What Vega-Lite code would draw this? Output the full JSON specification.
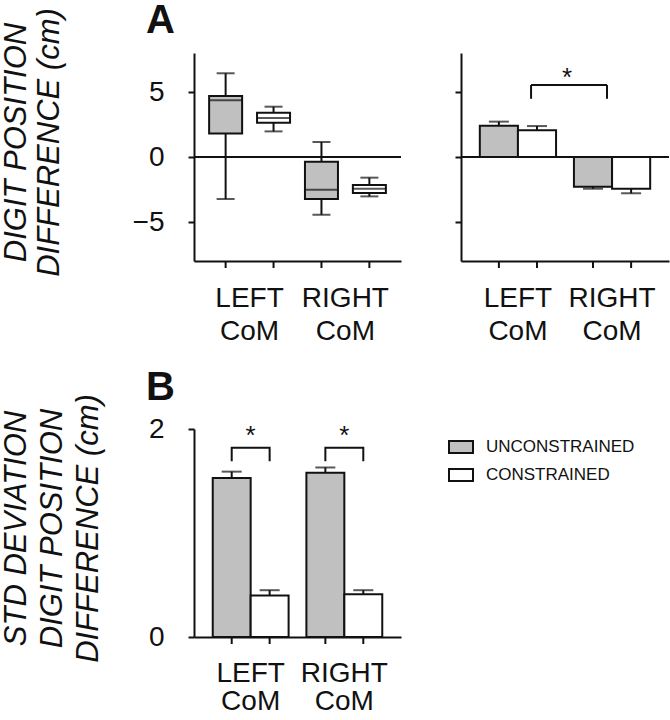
{
  "$schema": "https://vega.github.io/schema/vega-lite/v6.json",
  "padding": 0,
  "background": "white",
  "config": {
    "font": "Liberation Sans",
    "view": {"stroke": null},
    "axis": {"domainColor": "#111", "domainWidth": 2, "tickColor": "#111", "tickWidth": 2, "tickSize": 6, "labelFont": "Liberation Sans", "labelFontSize": 28, "labelColor": "#111", "grid": false, "titleFont": "Liberation Sans", "titleFontSize": 31, "titleFontStyle": "italic", "titleFontWeight": "normal", "titleColor": "#111"},
    "title": {"font": "Liberation Sans", "fontSize": 40, "fontWeight": "bold", "color": "#111", "anchor": "start", "frame": "group"}
  },
  "datasets": {
    "box": [
      {"group": "LEFT", "condition": "UNCONSTRAINED", "lower": -3.23, "q1": 1.8, "median": 4.36, "q3": 4.7, "upper": 6.44},
      {"group": "LEFT", "condition": "CONSTRAINED", "lower": 1.97, "q1": 2.64, "median": 3.0, "q3": 3.41, "upper": 3.87},
      {"group": "RIGHT", "condition": "UNCONSTRAINED", "lower": -4.44, "q1": -3.23, "median": -2.51, "q3": -0.36, "upper": 1.15},
      {"group": "RIGHT", "condition": "CONSTRAINED", "lower": -3.03, "q1": -2.77, "median": -2.44, "q3": -2.15, "upper": -1.59}
    ],
    "barsA": [
      {"group": "LEFT", "condition": "UNCONSTRAINED", "mean": 2.41, "errEnd": 2.72},
      {"group": "LEFT", "condition": "CONSTRAINED", "mean": 2.05, "errEnd": 2.38},
      {"group": "RIGHT", "condition": "UNCONSTRAINED", "mean": -2.28, "errEnd": -2.44},
      {"group": "RIGHT", "condition": "CONSTRAINED", "mean": -2.44, "errEnd": -2.79}
    ],
    "barsB": [
      {"group": "LEFT", "condition": "UNCONSTRAINED", "mean": 1.53, "errEnd": 1.59},
      {"group": "LEFT", "condition": "CONSTRAINED", "mean": 0.40, "errEnd": 0.45},
      {"group": "RIGHT", "condition": "UNCONSTRAINED", "mean": 1.58, "errEnd": 1.63},
      {"group": "RIGHT", "condition": "CONSTRAINED", "mean": 0.41, "errEnd": 0.45}
    ],
    "bracketA": [{"from": "LEFT", "to": "RIGHT", "low": 4.48, "high": 5.54}],
    "starA": [{"group": "LEFT", "condition": "CONSTRAINED", "y": 6.1, "label": "*"}],
    "bracketB": [
      {"id": "L", "group": "LEFT", "condition": "UNCONSTRAINED", "y": 1.69, "order": 1},
      {"id": "L", "group": "LEFT", "condition": "UNCONSTRAINED", "y": 1.82, "order": 2},
      {"id": "L", "group": "LEFT", "condition": "CONSTRAINED", "y": 1.82, "order": 3},
      {"id": "L", "group": "LEFT", "condition": "CONSTRAINED", "y": 1.69, "order": 4},
      {"id": "R", "group": "RIGHT", "condition": "UNCONSTRAINED", "y": 1.69, "order": 1},
      {"id": "R", "group": "RIGHT", "condition": "UNCONSTRAINED", "y": 1.82, "order": 2},
      {"id": "R", "group": "RIGHT", "condition": "CONSTRAINED", "y": 1.82, "order": 3},
      {"id": "R", "group": "RIGHT", "condition": "CONSTRAINED", "y": 1.69, "order": 4}
    ],
    "starB": [
      {"group": "LEFT", "y": 1.93, "label": "*"},
      {"group": "RIGHT", "y": 1.93, "label": "*"}
    ]
  },
  "spacing": 22,
  "resolve": {
    "scale": {"x": "independent", "xOffset": "independent", "y": "independent", "fill": "independent"},
    "legend": {"fill": "independent"}
  },
  "vconcat": [
    {
      "spacing": 52,
      "resolve": {
        "scale": {"x": "independent", "xOffset": "independent", "y": "independent"}
      },
      "hconcat": [
        {
          "width": 207,
          "height": 208,
          "title": {"text": "A", "dx": -48, "offset": -33},
          "data": {"name": "box"},
          "layer": [
            {
              "mark": {"type": "rule", "color": "#111", "strokeWidth": 2},
              "encoding": {
                "x": {"field": "group", "type": "nominal", "sort": ["LEFT", "RIGHT"], "scale": {"paddingInner": 0, "paddingOuter": 0.08}, "axis": {"title": null, "ticks": false, "labelAngle": 0, "labelExpr": "[datum.label, 'CoM']", "labelPadding": 23, "labelLineHeight": 33, "labelBaseline": "top"}},
                "xOffset": {"field": "condition", "type": "nominal", "sort": ["UNCONSTRAINED", "CONSTRAINED"], "scale": {"paddingInner": 0, "paddingOuter": 0}},
                "y": {"field": "lower", "type": "quantitative", "scale": {"domain": [-8, 8], "nice": false}, "axis": {"values": [-5, 0, 5], "labelPadding": 24, "title": ["DIGIT POSITION", "DIFFERENCE (cm)"], "titleX": -193, "titleY": 89, "titleBaseline": "top", "titleAlign": "center", "titleLineHeight": 33, "titleAngle": -90}},
                "y2": {"field": "upper"}
              }
            },
            {
              "mark": {"type": "bar", "width": 33, "stroke": "#111", "strokeWidth": 2},
              "encoding": {
                "x": {"field": "group", "type": "nominal", "sort": ["LEFT", "RIGHT"]},
                "xOffset": {"field": "condition", "type": "nominal", "sort": ["UNCONSTRAINED", "CONSTRAINED"]},
                "y": {"field": "q1", "type": "quantitative", "stack": null},
                "y2": {"field": "q3"},
                "fill": {"condition": {"test": "datum.condition === 'UNCONSTRAINED'", "value": "#c0c0c0"}, "value": "white"}
              }
            },
            {
              "mark": {"type": "tick", "size": 33, "thickness": 2, "color": "#111"},
              "encoding": {
                "x": {"field": "group", "type": "nominal", "sort": ["LEFT", "RIGHT"]},
                "xOffset": {"field": "condition", "type": "nominal", "sort": ["UNCONSTRAINED", "CONSTRAINED"]},
                "y": {"field": "median", "type": "quantitative"}
              }
            },
            {
              "mark": {"type": "tick", "size": 18, "thickness": 2, "color": "#111"},
              "encoding": {
                "x": {"field": "group", "type": "nominal", "sort": ["LEFT", "RIGHT"]},
                "xOffset": {"field": "condition", "type": "nominal", "sort": ["UNCONSTRAINED", "CONSTRAINED"]},
                "y": {"field": "upper", "type": "quantitative"}
              }
            },
            {
              "mark": {"type": "tick", "size": 18, "thickness": 2, "color": "#111"},
              "encoding": {
                "x": {"field": "group", "type": "nominal", "sort": ["LEFT", "RIGHT"]},
                "xOffset": {"field": "condition", "type": "nominal", "sort": ["UNCONSTRAINED", "CONSTRAINED"]},
                "y": {"field": "lower", "type": "quantitative"}
              }
            },
            {
              "mark": {"type": "rule", "color": "#111", "strokeWidth": 2, "y2Offset": 7},
              "encoding": {
                "x": {"field": "group", "type": "nominal", "sort": ["LEFT", "RIGHT"]},
                "xOffset": {"field": "condition", "type": "nominal", "sort": ["UNCONSTRAINED", "CONSTRAINED"]},
                "y": {"datum": -8},
                "y2": {"datum": -8}
              }
            },
            {
              "data": {"values": [{"zero": 0}]},
              "mark": {"type": "rule", "color": "#111", "strokeWidth": 2},
              "encoding": {"y": {"field": "zero", "type": "quantitative"}}
            }
          ]
        },
        {
          "width": 208,
          "height": 208,
          "layer": [
            {
              "data": {"name": "barsA"},
              "mark": {"type": "rule", "color": "#111", "strokeWidth": 2},
              "encoding": {
                "x": {"field": "group", "type": "nominal", "sort": ["LEFT", "RIGHT"], "scale": {"paddingInner": 0.19, "paddingOuter": 0.2}, "axis": {"title": null, "ticks": false, "labelAngle": 0, "labelExpr": "[datum.label, 'CoM']", "labelPadding": 23, "labelLineHeight": 33, "labelBaseline": "top"}},
                "xOffset": {"field": "condition", "type": "nominal", "sort": ["UNCONSTRAINED", "CONSTRAINED"], "scale": {"paddingInner": 0, "paddingOuter": 0}},
                "y": {"field": "mean", "type": "quantitative", "scale": {"domain": [-8, 8], "nice": false}, "axis": {"values": [-5, 0, 5], "labels": false, "title": null}},
                "y2": {"field": "errEnd"}
              }
            },
            {
              "data": {"name": "barsA"},
              "mark": {"type": "tick", "size": 20, "thickness": 2, "color": "#111"},
              "encoding": {
                "x": {"field": "group", "type": "nominal", "sort": ["LEFT", "RIGHT"]},
                "xOffset": {"field": "condition", "type": "nominal", "sort": ["UNCONSTRAINED", "CONSTRAINED"]},
                "y": {"field": "errEnd", "type": "quantitative"}
              }
            },
            {
              "data": {"name": "barsA"},
              "mark": {"type": "bar", "stroke": "#111", "strokeWidth": 2},
              "encoding": {
                "x": {"field": "group", "type": "nominal", "sort": ["LEFT", "RIGHT"]},
                "xOffset": {"field": "condition", "type": "nominal", "sort": ["UNCONSTRAINED", "CONSTRAINED"]},
                "y": {"field": "mean", "type": "quantitative", "stack": null},
                "fill": {"condition": {"test": "datum.condition === 'UNCONSTRAINED'", "value": "#c0c0c0"}, "value": "white"}
              }
            },
            {
              "data": {"name": "barsA"},
              "mark": {"type": "rule", "color": "#111", "strokeWidth": 2, "y2Offset": 7},
              "encoding": {
                "x": {"field": "group", "type": "nominal", "sort": ["LEFT", "RIGHT"]},
                "xOffset": {"field": "condition", "type": "nominal", "sort": ["UNCONSTRAINED", "CONSTRAINED"]},
                "y": {"datum": -8},
                "y2": {"datum": -8}
              }
            },
            {
              "data": {"name": "bracketA"},
              "mark": {"type": "rule", "color": "#111", "strokeWidth": 2},
              "encoding": {
                "x": {"field": "from", "type": "nominal", "bandPosition": 0.672},
                "x2": {"field": "to", "bandPosition": 0.434},
                "y": {"field": "high", "type": "quantitative"}
              }
            },
            {
              "data": {"name": "bracketA"},
              "mark": {"type": "rule", "color": "#111", "strokeWidth": 2},
              "encoding": {
                "x": {"field": "from", "type": "nominal", "bandPosition": 0.672},
                "y": {"field": "low", "type": "quantitative"},
                "y2": {"field": "high"}
              }
            },
            {
              "data": {"name": "bracketA"},
              "mark": {"type": "rule", "color": "#111", "strokeWidth": 2},
              "encoding": {
                "x": {"field": "to", "type": "nominal", "bandPosition": 0.434},
                "y": {"field": "low", "type": "quantitative"},
                "y2": {"field": "high"}
              }
            },
            {
              "data": {"name": "starA"},
              "mark": {"type": "text", "fontSize": 26, "color": "#111", "dx": 30},
              "encoding": {
                "x": {"field": "group", "type": "nominal", "sort": ["LEFT", "RIGHT"]},
                "xOffset": {"field": "condition", "type": "nominal", "sort": ["UNCONSTRAINED", "CONSTRAINED"]},
                "y": {"field": "y", "type": "quantitative"},
                "text": {"field": "label"}
              }
            },
            {
              "data": {"values": [{"zero": 0}]},
              "mark": {"type": "rule", "color": "#111", "strokeWidth": 2},
              "encoding": {"y": {"field": "zero", "type": "quantitative"}}
            }
          ]
        }
      ]
    },
    {
      "width": 207,
      "height": 208,
      "title": {"text": "B", "dx": -48, "offset": -14},
      "layer": [
        {
          "data": {"name": "barsB"},
          "mark": {"type": "rule", "color": "#111", "strokeWidth": 2},
          "encoding": {
            "x": {"field": "group", "type": "nominal", "sort": ["LEFT", "RIGHT"], "scale": {"paddingInner": 0.19, "paddingOuter": 0.2}, "axis": {"title": null, "ticks": false, "labelAngle": 0, "labelExpr": "[datum.label, 'CoM']", "labelPadding": 22, "labelLineHeight": 28, "labelBaseline": "top"}},
            "xOffset": {"field": "condition", "type": "nominal", "sort": ["UNCONSTRAINED", "CONSTRAINED"], "scale": {"paddingInner": 0, "paddingOuter": 0}},
            "y": {"field": "mean", "type": "quantitative", "scale": {"domain": [0, 2], "nice": false}, "axis": {"values": [0, 1, 2], "format": "d", "labelPadding": 24, "title": ["STD DEVIATION", "DIGIT POSITION", "DIFFERENCE (cm)"], "titleX": -193, "titleY": 99, "titleBaseline": "top", "titleAlign": "center", "titleLineHeight": 36, "titleAngle": -90}},
            "y2": {"field": "errEnd"}
          }
        },
        {
          "data": {"name": "barsB"},
          "mark": {"type": "tick", "size": 20, "thickness": 2, "color": "#111"},
          "encoding": {
            "x": {"field": "group", "type": "nominal", "sort": ["LEFT", "RIGHT"]},
            "xOffset": {"field": "condition", "type": "nominal", "sort": ["UNCONSTRAINED", "CONSTRAINED"]},
            "y": {"field": "errEnd", "type": "quantitative"}
          }
        },
        {
          "data": {"name": "barsB"},
          "mark": {"type": "bar", "stroke": "#111", "strokeWidth": 2},
          "encoding": {
            "x": {"field": "group", "type": "nominal", "sort": ["LEFT", "RIGHT"]},
            "xOffset": {"field": "condition", "type": "nominal", "sort": ["UNCONSTRAINED", "CONSTRAINED"]},
            "y": {"field": "mean", "type": "quantitative", "stack": null},
            "fill": {"field": "condition", "type": "nominal", "scale": {"domain": ["UNCONSTRAINED", "CONSTRAINED"], "range": ["#c0c0c0", "white"]}, "legend": {"title": null, "orient": "none", "legendX": 254, "legendY": 5, "symbolType": "M-1,-0.5H1V0.5H-1Z", "symbolSize": 576, "symbolStrokeColor": "#111", "symbolStrokeWidth": 2, "symbolOpacity": 1, "labelFont": "Liberation Sans", "labelFontSize": 17, "labelColor": "#111", "labelOffset": 12, "rowPadding": 5}}
          }
        },
        {
          "data": {"name": "barsB"},
          "mark": {"type": "rule", "color": "#111", "strokeWidth": 2, "y2Offset": 7},
          "encoding": {
            "x": {"field": "group", "type": "nominal", "sort": ["LEFT", "RIGHT"]},
            "xOffset": {"field": "condition", "type": "nominal", "sort": ["UNCONSTRAINED", "CONSTRAINED"]},
            "y": {"datum": 0},
            "y2": {"datum": 0}
          }
        },
        {
          "data": {"name": "bracketB"},
          "mark": {"type": "line", "color": "#111", "strokeWidth": 2},
          "encoding": {
            "x": {"field": "group", "type": "nominal", "sort": ["LEFT", "RIGHT"]},
            "xOffset": {"field": "condition", "type": "nominal", "sort": ["UNCONSTRAINED", "CONSTRAINED"]},
            "y": {"field": "y", "type": "quantitative"},
            "order": {"field": "order"},
            "detail": {"field": "id"}
          }
        },
        {
          "data": {"name": "starB"},
          "mark": {"type": "text", "fontSize": 26, "color": "#111"},
          "encoding": {
            "x": {"field": "group", "type": "nominal", "sort": ["LEFT", "RIGHT"]},
            "y": {"field": "y", "type": "quantitative"},
            "text": {"field": "label"}
          }
        }
      ]
    }
  ]
}
